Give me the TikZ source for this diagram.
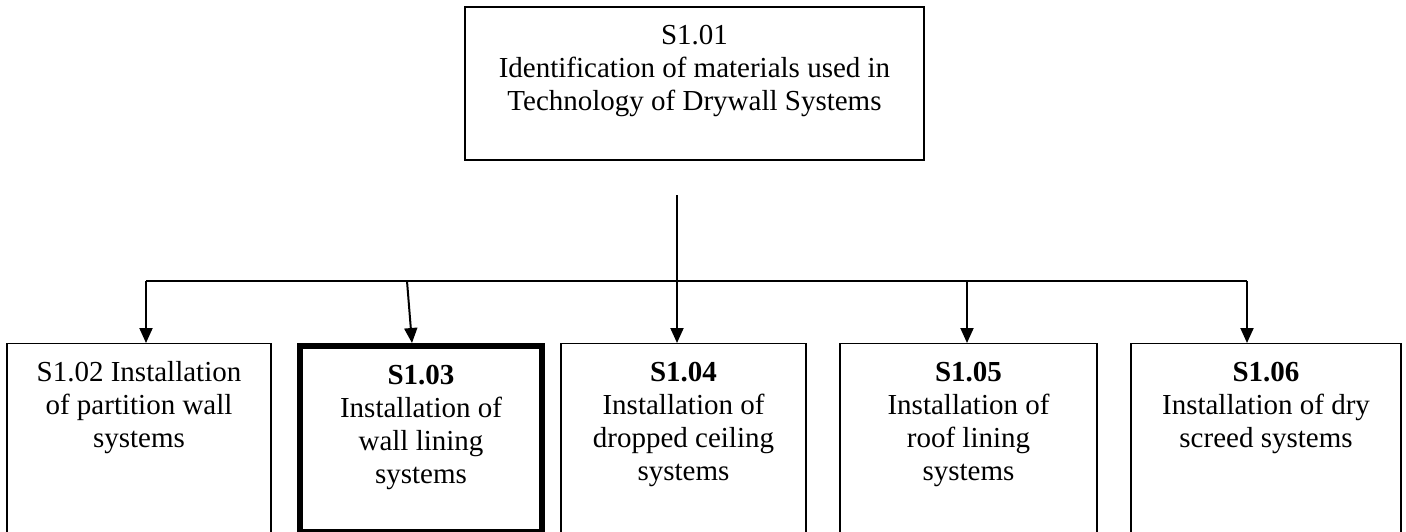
\documentclass[tikz,border=0pt]{standalone}
\usepackage{fontspec}
\setmainfont{Liberation Serif}
\usetikzlibrary{arrows.meta}

\tikzset{
  unit/.style={draw, line width=1.3pt, inner sep=0pt, anchor=north, align=center,
    font=\fontsize{29}{33}\selectfont},
  link/.style={line width=2pt, -{Triangle[length=15pt,width=13pt]}},
}

\begin{document}
\begin{tikzpicture}[x=1pt,y=-1pt]
  \clip (0,0) rectangle (1406,531);

  % top unit
  \node[unit, line width=1.5pt, minimum width=459pt, text height=104pt, text depth=49pt] (S101) at (694.5,6)
    {S1.01\\Identification of materials used in\\Technology of Drywall Systems};

  % sub units
  \node[unit, minimum width=264pt, text height=104pt, text depth=113pt] (S102) at (139,343)
    {S1.02 Installation\\of partition wall\\systems};
  \node[unit, line width=6pt, minimum width=242pt, text height=137pt, text depth=49pt] (S103) at (421,343)
    {\textbf{S1.03}\\Installation of\\wall lining\\systems};
  \node[unit, minimum width=245pt, text height=137pt, text depth=80pt] (S104) at (683.5,343)
    {\textbf{S1.04}\\Installation of\\dropped ceiling\\systems};
  \node[unit, minimum width=257pt, text height=137pt, text depth=80pt] (S105) at (968.5,343)
    {\textbf{S1.05}\\Installation of\\roof lining\\systems};
  \node[unit, minimum width=270pt, text height=104pt, text depth=113pt] (S106) at (1266,343)
    {\textbf{S1.06}\\Installation of dry\\screed systems};

  \coordinate (stem) at (677,195);
  \coordinate (busL) at (146,281);
  \coordinate (busR) at (1247,281);
  \coordinate (j2) at (407,281);
  \coordinate (j4) at (967,281);

  \draw[line width=2pt] (busL) -- (busR);
  \draw[link] (stem) -- (stem |- S104.north);
  \draw[link] (busL) -- (busL |- S102.north);
  \draw[link] (j2) -- ([xshift=-9pt]S103.north);
  \draw[link] (j4) -- (j4 |- S105.north);
  \draw[link] (busR) -- (busR |- S106.north);
\end{tikzpicture}
\end{document}
